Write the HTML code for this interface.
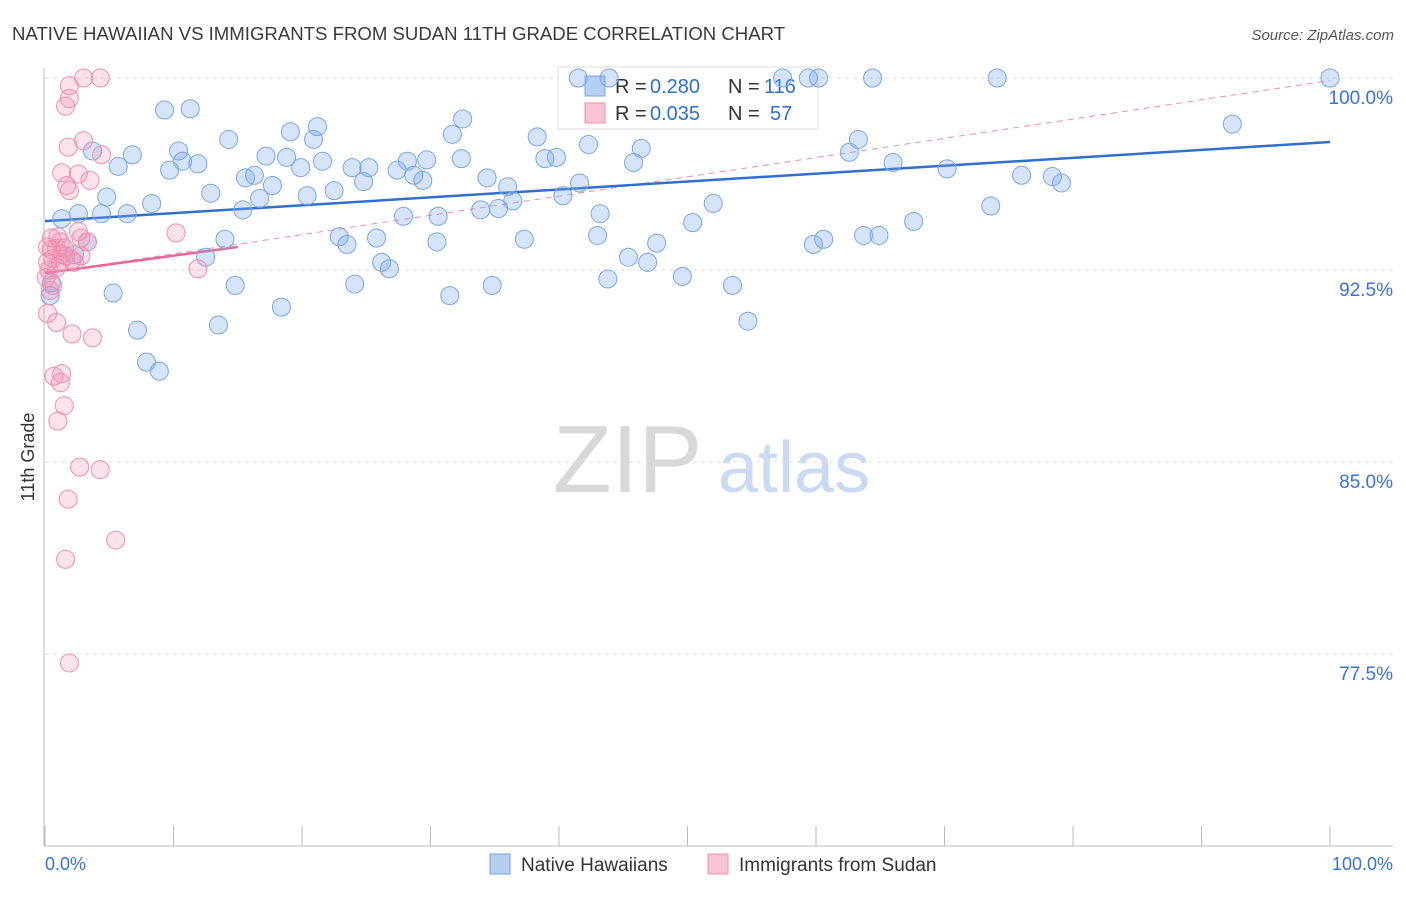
<!DOCTYPE html>
<html><head><meta charset="utf-8">
<style>
body{margin:0;background:#fff;font-family:"Liberation Sans",sans-serif;}
svg text{font-family:"Liberation Sans",sans-serif;}
</style></head>
<body>
<svg id="chart" width="1406" height="892" viewBox="0 0 1406 892" xmlns="http://www.w3.org/2000/svg">
<text x="12" y="40" font-size="18.6" fill="#3a3a3a">NATIVE HAWAIIAN VS IMMIGRANTS FROM SUDAN 11TH GRADE CORRELATION CHART</text>
<text x="1394" y="40" font-size="15" fill="#555" text-anchor="end" font-style="italic">Source: ZipAtlas.com</text>
<g>
<text x="553" y="492" font-size="96" fill="#d8d8d8" font-family="Liberation Serif, serif">ZIP</text>
<text x="718" y="492" font-size="72" fill="#c9daf2">atlas</text>
</g>
<text transform="translate(34,457) rotate(-90)" font-size="18" fill="#333" text-anchor="middle">11th Grade</text>
<g id="grid"></g>
<g id="axes"></g>
<g>
<rect x="558" y="67" width="260" height="62" fill="#fff" stroke="#ddd"/>
<rect x="585" y="76" width="20" height="20" fill="#b5cff3" stroke="#7aa6e0"/>
<text x="615" y="93" font-size="20" fill="#333">R =</text>
<text x="650" y="93" font-size="20" fill="#2f6fd0">0.280</text>
<text x="728" y="93" font-size="20" fill="#333">N =</text>
<text x="764" y="93" font-size="20" fill="#2f6fd0">116</text>
<rect x="585" y="103" width="20" height="20" fill="#f8c4d4" stroke="#ee8fb0"/>
<text x="615" y="120" font-size="20" fill="#333">R =</text>
<text x="650" y="120" font-size="20" fill="#2f6fd0">0.035</text>
<text x="728" y="120" font-size="20" fill="#333">N =</text>
<text x="770" y="120" font-size="20" fill="#2f6fd0">57</text>
</g>
<g id="trend"></g>
<g id="points"></g>
<g>
<rect x="490" y="854" width="20" height="20" fill="#b5cff3" stroke="#7aa6e0"/>
<text x="521" y="871" font-size="19" fill="#333">Native Hawaiians</text>
<rect x="708" y="854" width="20" height="20" fill="#f8c4d4" stroke="#ee8fb0"/>
<text x="739" y="871" font-size="19" fill="#333">Immigrants from Sudan</text>
</g>
</svg>
<script>
const yTicks=[100,92.5,85,77.5];
const yTickLabels=["100.0%","92.5%","85.0%","77.5%"];
const blueX=[41.5,43.9,57.4,59.4,60.2,64.4,74.1,100,9.3,11.3,32.5,21.2,19.1,31.7,38.3,42.3,63.3,92.4,14.3,3.7,10.4,6.8,10.7,11.9,5.7,9.7,17.2,18.8,20.9,21.6,19.9,23.9,25.2,27.4,28.2,28.7,29.4,29.7,32.4,34.4,38.9,39.8,46.4,45.8,62.6,66.0,70.2,76.0,78.4,79.1,41.6,36.0,24.8,15.6,16.3,17.7,20.4,22.5,12.9,4.8,8.3,16.7,15.4,4.4,2.6,1.3,6.4,35.3,33.9,36.4,40.3,43.2,52.0,50.4,30.6,27.9,67.6,73.6,22.9,23.5,25.8,30.5,37.3,43.0,47.6,59.8,60.6,63.7,64.9,3.3,14.0,12.5,2.3,26.2,26.8,45.4,46.9,49.6,14.8,24.1,34.8,43.8,53.5,5.3,31.5,18.4,13.5,7.2,54.7,7.9,8.9,0.5,0.4];
const blueY=[100,100,100,100,100,100,100,100,98.75,98.8,98.4,98.1,97.9,97.8,97.7,97.4,97.6,98.2,97.6,97.15,97.15,97.0,96.75,96.65,96.55,96.4,96.95,96.9,97.6,96.75,96.5,96.5,96.5,96.4,96.75,96.2,96.0,96.8,96.85,96.1,96.85,96.9,97.25,96.7,97.1,96.7,96.45,96.2,96.15,95.9,95.9,95.75,95.95,96.1,96.2,95.8,95.4,95.6,95.5,95.35,95.1,95.3,94.85,94.7,94.7,94.5,94.7,94.9,94.85,95.2,95.4,94.7,95.1,94.35,94.6,94.6,94.4,95.0,93.8,93.5,93.75,93.6,93.7,93.85,93.55,93.5,93.7,93.85,93.85,93.6,93.7,93.0,93.1,92.8,92.55,93.0,92.8,92.25,91.9,91.95,91.9,92.15,91.9,91.6,91.5,91.05,90.35,90.15,90.5,88.9,88.55,92.0,91.5];
const pinkX=[1.9,3.0,4.3,1.9,1.6,3.0,1.8,4.4,1.3,2.6,1.7,1.9,3.5,10.2,0.5,1.2,2.8,3.3,2.6,0.9,1.3,1.6,0.6,2.1,0.2,0.9,0.3,1.2,11.9,0.6,0.2,0.9,2.1,3.7,0.7,1.3,1.2,1.5,1.0,2.7,4.3,1.8,5.5,1.6,1.9,0.5,1.5,0.1,2.3,2.8,0.2,0.4,1.0];
const pinkY=[99.7,100,100,99.2,98.9,97.55,97.3,97.0,96.3,96.25,95.8,95.6,96.0,93.95,93.75,93.6,93.75,93.6,94.0,93.35,93.1,93.05,92.95,92.9,92.8,92.6,92.5,92.8,92.55,91.9,90.8,90.45,90.0,89.85,88.35,88.45,88.1,87.2,86.6,84.8,84.7,83.55,81.95,81.2,77.15,93.3,93.35,92.2,92.8,93.05,93.4,91.7,93.8];
const blueTrend=[94.41,97.5];
const pinkTrend=[92.38,93.4];
const pinkDash=[92.38,99.9];

const NS="http://www.w3.org/2000/svg";
const X=v=>45+v*12.85;
const Y=v=>78+(100-v)*25.6;
function mk(tag,attrs,parent){const e=document.createElementNS(NS,tag);for(const k in attrs)e.setAttribute(k,attrs[k]);parent.appendChild(e);return e;}
const grid=document.getElementById('grid'),axes=document.getElementById('axes'),trend=document.getElementById('trend'),pts=document.getElementById('points');
yTicks.forEach((t,i)=>{
 const l=mk('line',{x1:45,x2:1393,y1:Y(t),y2:Y(t),stroke:'#ddd','stroke-dasharray':'4,4'},grid);
 
 
 const tx=mk('text',{x:1393,y:Y(t)+26,'font-size':19,fill:'#3a72d0','text-anchor':'end'},grid);
 tx.textContent=yTickLabels[i];
 
 
});
const ya=mk('line',{x1:44,x2:44,y1:68,y2:846,stroke:'#bbb'},axes);


const xa=mk('line',{x1:44,x2:1393,y1:846,y2:846,stroke:'#bbb'},axes);


for(let i=0;i<=10;i++){
 const t=mk('line',{x1:X(i*10),x2:X(i*10),y1:826,y2:846,stroke:'#bbb'},axes);
 
 
}
const xl0=mk('text',{x:45,y:870,'font-size':18,fill:'#3a72d0'},axes);xl0.textContent='0.0%';


const xl1=mk('text',{x:1393,y:870,'font-size':18,fill:'#3a72d0','text-anchor':'end'},axes);xl1.textContent='100.0%';


blueX.forEach((v,i)=>{
 const c=mk('circle',{cx:X(v),cy:Y(blueY[i]),r:9,fill:'rgba(120,165,235,0.3)',stroke:'#7aa6e0','stroke-width':1},pts);
 
 
});
pinkX.forEach((v,i)=>{
 const c=mk('circle',{cx:X(v),cy:Y(pinkY[i]),r:9,fill:'rgba(240,140,175,0.25)',stroke:'#ee8fb0','stroke-width':1},pts);
 
 
});
const d=mk('line',{x1:X(0),y1:Y(pinkDash[0]),x2:X(100),y2:Y(pinkDash[1]),stroke:'#ee8fb0','stroke-width':1,'stroke-dasharray':'6,5'},trend);


const b=mk('line',{x1:X(0),y1:Y(blueTrend[0]),x2:X(100),y2:Y(blueTrend[1]),stroke:'#2f6fd0','stroke-width':2.5},trend);


const p=mk('line',{x1:X(0),y1:Y(pinkTrend[0]),x2:X(15),y2:Y(pinkTrend[1]),stroke:'#e8679a','stroke-width':2.5},trend);


</script>
</body></html>
